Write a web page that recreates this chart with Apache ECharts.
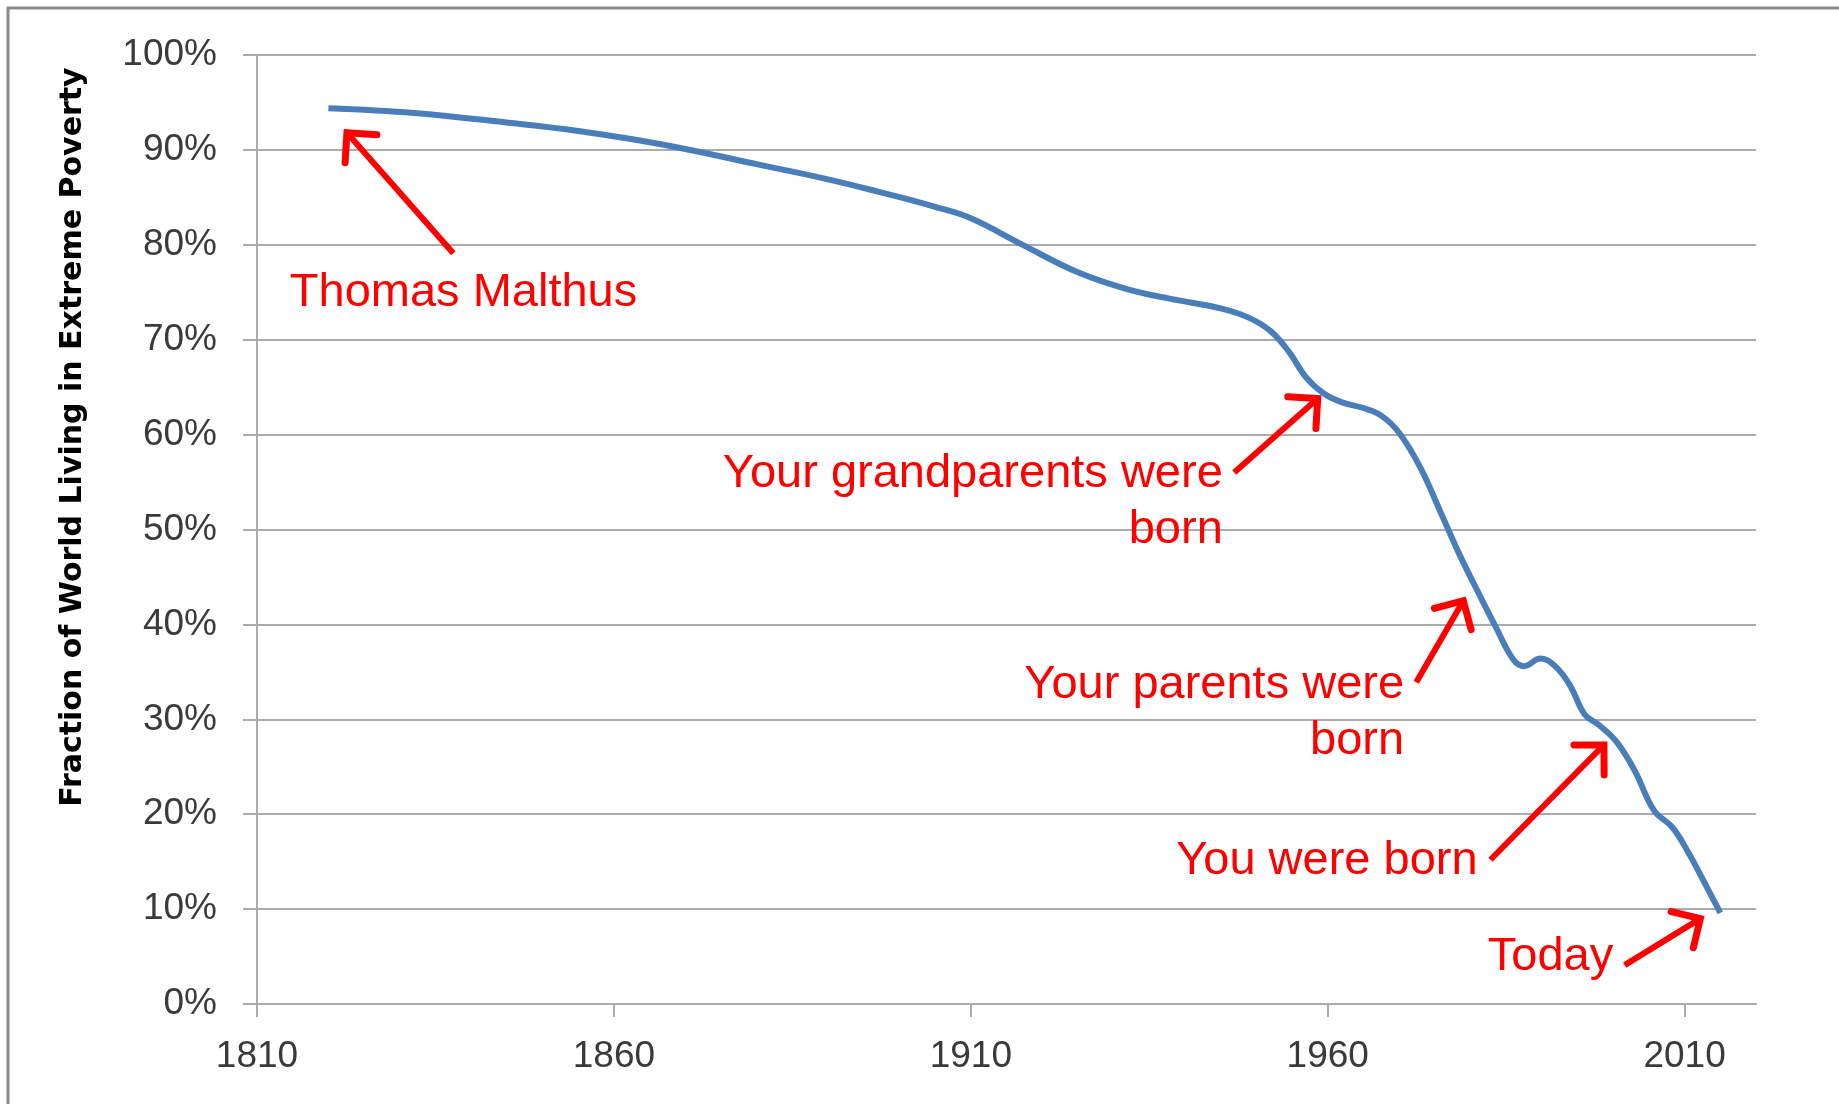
<!DOCTYPE html>
<html>
<head>
<meta charset="utf-8">
<style>
  html, body { margin: 0; padding: 0; background: #fff; }
  #app { width: 1839px; height: 1104px; }
</style>
<script src="https://cdn.jsdelivr.net/npm/echarts@6/dist/echarts.min.js"></script>
</head>
<body>
<div id="app"></div>
<script>
// share of world population in extreme poverty (%)
const years = [1820, 1832, 1846, 1855, 1862, 1870, 1880, 1890, 1897, 1905, 1910, 1917, 1925, 1932, 1938, 1945, 1949, 1952, 1954.5, 1957, 1959.5, 1962, 1965, 1967.5, 1970, 1973, 1976, 1978.5, 1981, 1983.5, 1986, 1987.5, 1989.8, 1992, 1994, 1996, 1998, 2000.5, 2003, 2005.7, 2008.3, 2010.5, 2012.5, 2015];
const poverty = [94.4, 93.9, 92.8, 92.0, 91.2, 90.1, 88.5, 86.9, 85.6, 84.0, 82.8, 80.1, 77.1, 75.3, 74.3, 73.3, 72.3, 70.9, 68.8, 66.0, 64.3, 63.4, 62.8, 62.0, 60.2, 56.5, 51.5, 47.3, 43.5, 39.8, 36.3, 35.6, 36.4, 35.5, 33.5, 30.5, 29.4, 27.6, 24.6, 20.4, 18.6, 16.0, 13.2, 9.6];

const xTicks = [1810, 1860, 1910, 1960, 2010];

// annotations: text anchor and arrow (tail -> head), in data units
const noteText = ['Thomas Malthus', 'Your grandparents were\nborn', 'Your parents were\nborn', 'You were born', 'Today'];
const noteYear = [1814.6, 1945.3, 1970.7, 1981.0, 2000.0];
const noteVal = [74.9, 52.9, 30.7, 15.1, 4.95];
const arrowFromYear = [1837.5, 1946.9, 1972.4, 1982.8, 2001.6];
const arrowFromVal = [79.1, 56.0, 33.9, 15.2, 4.1];
const arrowToYear = [1822.6, 1958.6, 1979.0, 1998.7, 2012.2];
const arrowToVal = [91.8, 63.8, 42.5, 27.3, 9.0];

const myChart = echarts.init(document.getElementById('app'));

const red = '#ff0000';
const gridGray = '#ababab';

const lineData = years.map((y, i) => [y, poverty[i]]);
const arrowData = arrowFromYear.map((x, i) => [x, arrowFromVal[i], arrowToYear[i], arrowToVal[i]]);
const noteData = noteYear.map((x, i) => [x, noteVal[i], i]);

const renderArrow = (params, api) => {
  const p1 = api.coord([api.value(0), api.value(1)]);
  const p2 = api.coord([api.value(2), api.value(3)]);
  const ang = Math.atan2(p2[1] - p1[1], p2[0] - p1[0]);
  const len = 30;
  const spread = Math.PI / 4;
  const a1 = [p2[0] - len * Math.cos(ang - spread), p2[1] - len * Math.sin(ang - spread)];
  const a2 = [p2[0] - len * Math.cos(ang + spread), p2[1] - len * Math.sin(ang + spread)];
  return {
    type: 'group',
    children: [
      {
        type: 'line',
        shape: { x1: p1[0], y1: p1[1], x2: p2[0], y2: p2[1] },
        style: { stroke: red, lineWidth: 6 }
      },
      {
        type: 'polyline',
        shape: { points: [a1, p2, a2] },
        style: { stroke: red, lineWidth: 7, fill: null, lineCap: 'round', lineJoin: 'miter' }
      }
    ]
  };
};

const renderNote = (params, api) => {
  const p = api.coord([api.value(0), api.value(1)]);
  const i = api.value(2);
  return {
    type: 'text',
    x: p[0],
    y: p[1],
    style: {
      text: noteText[i],
      fill: red,
      fontSize: 47,
      fontFamily: '"Liberation Sans", Arial, sans-serif',
      align: i === 0 ? 'left' : 'right',
      verticalAlign: 'middle',
      lineHeight: 56
    }
  };
};

const option = {
  animation: false,
  backgroundColor: '#fff',
  grid: { left: 257, top: 55, width: 1499, height: 949 },
  graphic: [
    {
      type: 'rect',
      shape: { x: 8, y: 8, width: 1900, height: 1200 },
      style: { fill: null, stroke: '#8a8a8a', lineWidth: 3 },
      silent: true
    },
    {
      type: 'text',
      x: 73,
      y: 437,
      rotation: Math.PI / 2,
      style: {
        text: 'Fraction of World Living in Extreme Poverty',
        fill: '#000',
        fontSize: 30,
        fontWeight: 'bold',
        fontFamily: '"DejaVu Sans", sans-serif',
        align: 'center',
        verticalAlign: 'middle'
      }
    }
  ],
  xAxis: {
    type: 'value',
    min: 1810,
    max: 2020,
    splitLine: { show: false },
    axisLine: { show: true, lineStyle: { color: gridGray, width: 2 } },
    axisTick: { show: true, length: 13, customValues: xTicks, lineStyle: { color: gridGray, width: 2 } },
    axisLabel: {
      customValues: xTicks,
      formatter: v => String(v),
      margin: 34,
      color: '#3a3a3a',
      fontSize: 37,
      fontFamily: '"Liberation Sans", Arial, sans-serif'
    }
  },
  yAxis: {
    type: 'value',
    min: 0,
    max: 100,
    interval: 10,
    axisLine: { show: true, lineStyle: { color: gridGray, width: 2 } },
    axisTick: { show: true, length: 14, lineStyle: { color: gridGray, width: 2 } },
    splitLine: { show: true, lineStyle: { color: gridGray, width: 2 } },
    axisLabel: {
      formatter: '{value}%',
      margin: 40,
      color: '#3a3a3a',
      fontSize: 37,
      fontFamily: '"Liberation Sans", Arial, sans-serif'
    }
  },
  series: [
    {
      name: 'poverty',
      type: 'line',
      data: lineData,
      smooth: 0.4,
      symbol: 'none',
      lineStyle: { color: '#4a7ebb', width: 6 },
      z: 3
    },
    {
      name: 'arrows',
      type: 'custom',
      data: arrowData,
      encode: { x: [0, 2], y: [1, 3] },
      renderItem: renderArrow,
      silent: true,
      z: 4
    },
    {
      name: 'notes',
      type: 'custom',
      data: noteData,
      encode: { x: 0, y: 1 },
      renderItem: renderNote,
      silent: true,
      z: 4
    }
  ]
};

myChart.setOption(option);
</script>
</body>
</html>
